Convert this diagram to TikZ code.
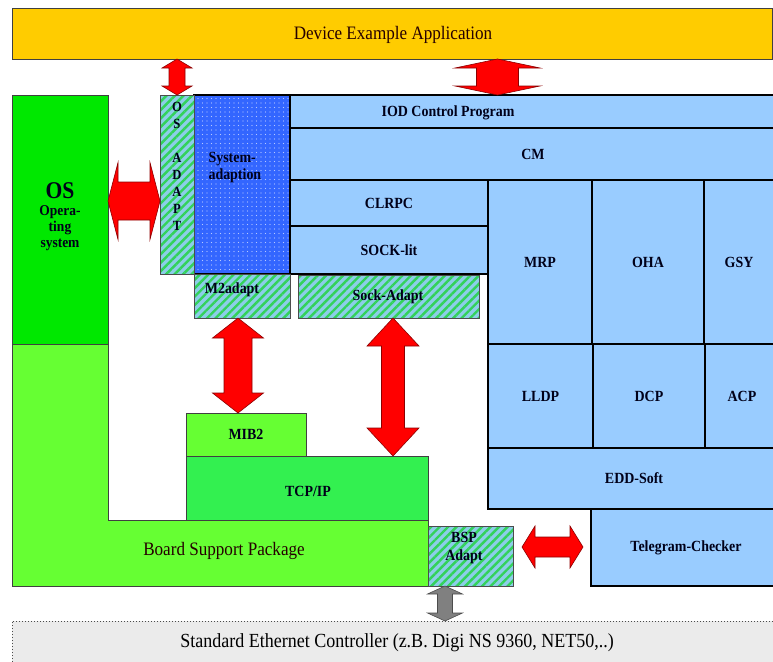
\documentclass[tikz,border=0pt]{standalone}
\usepackage{fontspec}
\setmainfont{Liberation Serif}
\newfontfamily\cond[FakeStretch=0.9]{Liberation Serif}
\usetikzlibrary{patterns.meta,calc}
\definecolor{appyellow}{RGB}{255,204,0}
\definecolor{osgreen}{RGB}{0,232,0}
\definecolor{bspgreen}{RGB}{102,255,51}
\definecolor{tcpgreen}{RGB}{51,240,80}
\definecolor{pnblue}{RGB}{153,204,255}
\definecolor{sysblue}{RGB}{51,102,255}
\definecolor{hatchbg}{RGB}{140,206,232}
\definecolor{hatchfg}{RGB}{50,210,90}
\definecolor{ethgray}{RGB}{235,235,235}
\definecolor{arrred}{RGB}{255,0,0}
\tikzset{
  bxbase/.style={inner sep=0pt, outer sep=0pt},
  lbl/.style={font=\cond\bfseries\fontsize{15.5}{17}\selectfont, text=black!90!blue},
  reg/.style={font=\cond\fontsize{19}{21}\selectfont, text=black!85!red},
  thinbox/.style={bxbase, draw=black!75, line width=0.8pt},
  pnbox/.style={bxbase, lbl, draw=black, line width=2.4pt, fill=pnblue},
  hatchbox/.style={bxbase, draw=black!70, line width=0.8pt, preaction={fill=hatchbg},
    pattern={Lines[angle=45,distance=6pt,line width=2.4pt]}, pattern color=hatchfg},
  sysbox/.style={bxbase, draw=black, line width=2.4pt, preaction={fill=sysblue},
    pattern={Dots[radius=0.6pt,distance=4.5pt]}, pattern color=white!65!sysblue},
  redarr/.style={fill=arrred, draw=red!55!black, line width=0.6pt},
  grayarr/.style={fill=black!50, draw=black!70, line width=0.6pt},
}
\newcommand\bx[6]{\node[#1, minimum width={((#4)-(#2))*1pt}, minimum height={((#5)-(#3))*1pt}] (#6) at ({((#2)+(#4))/2},{((#3)+(#5))/2})}
\newcommand\vdarr[6]{\draw[#1] let \p1=(#2), \p2=(#3) in
  (\x1,\y1) -- (\x1+#4pt,\y1-#6pt) -- (\x1+#5pt,\y1-#6pt) -- (\x1+#5pt,\y2+#6pt) -- (\x1+#4pt,\y2+#6pt) -- (\x1,\y2)
  -- (\x1-#4pt,\y2+#6pt) -- (\x1-#5pt,\y2+#6pt) -- (\x1-#5pt,\y1-#6pt) -- (\x1-#4pt,\y1-#6pt) -- cycle;}
\newcommand\hdarr[6]{\draw[#1] let \p1=(#2), \p2=(#3) in
  (\x1,\y1) -- (\x1+#6pt,\y1+#4pt) -- (\x1+#6pt,\y1+#5pt) -- (\x2-#6pt,\y1+#5pt) -- (\x2-#6pt,\y1+#4pt) -- (\x2,\y1)
  -- (\x2-#6pt,\y1-#4pt) -- (\x2-#6pt,\y1-#5pt) -- (\x1+#6pt,\y1-#5pt) -- (\x1+#6pt,\y1-#4pt) -- cycle;}
\begin{document}
\begin{tikzpicture}[x=1pt,y=-1pt]
\useasboundingbox (0,0) rectangle (773,661);
\clip (0,0) rectangle (773,661);
\fill[white] (0,0) rectangle (773,661);
% application
\bx{thinbox,fill=appyellow}{12}{8}{772}{59}{app} {};
\node[reg] (applbl) at (393,35) {Device Example Application};
% OS
\bx{thinbox,fill=osgreen}{12}{95}{108}{344}{os} {};
\node[lbl, align=center, font=\cond\bfseries\fontsize{15}{16}\selectfont] (oslbl) at (60,217)
  {{\fontsize{24}{24}\selectfont OS}\\[1pt]Opera-\\ting\\system};
% Board support package (L shape)
\draw[thinbox, fill=bspgreen] (12,344) -- (108,344) -- (108,520) -- (428,520) -- (428,586) -- (12,586) -- cycle;
\node[reg] (bsplbl) at (224,551) {Board Support Package};
\bx{thinbox,fill=bspgreen}{186}{413}{306}{456}{mib2} {};
\node[lbl] at (mib2.center) {MIB2};
\bx{thinbox,fill=tcpgreen}{186}{456}{428}{520}{tcpip} {};
\node[lbl] at ($(tcpip.center)+(1,3)$) {TCP/IP};
\bx{hatchbox}{428}{526}{513}{586}{bspadapt} {};
\node[lbl, align=center, font=\cond\bfseries\fontsize{15.5}{18}\selectfont] (bspalbl) at (464,548) {BSP\\Adapt};
% ethernet controller
\bx{bxbase, draw=black!70, line width=1pt, dotted, fill=ethgray}{12}{621}{790}{690}{eth} {};
\node[reg, font=\cond\fontsize{20}{22}\selectfont, text=black] (ethlbl) at (397,643) {Standard Ethernet Controller (z.B. Digi NS 9360, NET50,..)};
% profinet stack
\bx{pnbox}{290}{95}{776}{128}{iod} {};
\node[lbl] (iodlbl) at (448,113) {IOD Control Program};
\bx{pnbox}{290}{128}{776}{180}{cm} {CM};
\bx{pnbox}{290}{180}{488}{226}{clrpc} {CLRPC};
\bx{pnbox}{290}{226}{488}{274}{socklit} {SOCK-lit};
\bx{pnbox}{488}{180}{592}{344}{mrp} {MRP};
\bx{pnbox}{592}{180}{704}{344}{oha} {OHA};
\bx{pnbox}{704}{180}{778}{344}{gsy} {};
\node[lbl] at (739,262) {GSY};
\bx{pnbox}{488}{344}{593}{448}{lldp} {LLDP};
\bx{pnbox}{593}{344}{705}{448}{dcp} {DCP};
\bx{pnbox}{705}{344}{778}{448}{acp} {};
\node[lbl] at (742,396) {ACP};
\bx{pnbox}{488}{448}{778}{509}{edd} {};
\node[lbl] at (634,478) {EDD-Soft};
\bx{pnbox}{591}{509}{778}{586}{telegram} {};
\node[lbl] at (686,548) {Telegram-Checker};
% adaption layer
\bx{sysbox}{194}{95}{290}{274}{sysad} {};
\node[lbl, anchor=west, align=left] (sysadlbl) at (205,168) {System-\\adaption};
\bx{hatchbox}{160}{95}{194}{274}{osadapt} {};
\node[lbl, anchor=north, align=center, font=\cond\bfseries\fontsize{14}{17}\selectfont] (osadlbl) at (177,99) {O\\S\\[17pt]A\\D\\A\\P\\T};
\bx{hatchbox}{194}{274}{290}{318}{m2adapt} {};
\node[lbl] (m2lbl) at (232,290) {M2adapt};
\bx{hatchbox}{298}{275}{479}{318}{sockadapt} {};
\node[lbl] (salbl) at (388,297) {Sock-Adapt};
% arrows
\coordinate (bigx) at (497.5,0);
\coordinate (osay) at (0,201);
\coordinate (m2x) at (238,0);
\coordinate (sax) at (393,0);
\coordinate (tgy) at (0,547);
\coordinate (gx) at (445,0);
\vdarr{redarr}{app.south -| osadapt.north}{osadapt.north}{15}{8}{9}
\vdarr{redarr}{app.south -| bigx}{iod.north -| bigx}{42.5}{21}{9}
\hdarr{redarr}{os.east |- osay}{osadapt.west |- osay}{38.5}{19}{10}
\vdarr{redarr}{m2adapt.south -| m2x}{mib2.north -| m2x}{25.5}{14}{20}
\vdarr{redarr}{sockadapt.south -| sax}{tcpip.north -| sax}{26}{11.5}{28}
\hdarr{redarr}{$(bspadapt.east |- tgy)+(9,0)$}{$(telegram.west |- tgy)+(-8,0)$}{21}{10}{13}
\vdarr{grayarr}{bspadapt.south -| gx}{eth.north -| gx}{17.5}{7.5}{8}
\end{tikzpicture}
\end{document}
